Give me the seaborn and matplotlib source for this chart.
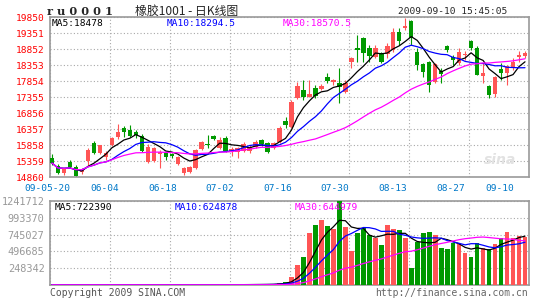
import numpy as np
import pandas as pd
import matplotlib
matplotlib.use("Agg")
import matplotlib.pyplot as plt
import seaborn as sns

# ---------------- data ----------------
opens = [15452, 15203, 14984, 15328, 15171, 15015, 15359, 15920, 15608, 15483,
         15858, 16107, 16388, 16325, 16263, 16138, 15328, 15359, 15577, 15608,
         15577, 15265, 14984, 15015, 15140, 15733, 15889, 16138, 15764, 16076,
         15670, 15639, 15670, 15670, 15795, 16014, 15920, 15764, 15951, 16606,
         16419, 17324, 17573, 17355, 17635, 17604, 17979, 17823, 17791, 17511,
         18446, 18883, 19195, 18883, 18602, 18727, 18696, 18821, 19382, 19507,
         19725, 18758, 18384, 18446, 17823, 18166, 18945, 18602, 18415, 18665,
         19101, 18883, 18010, 17698, 17448, 18228, 18103, 18259, 18602, 18634]
highs = [15577, 15265, 15140, 15390, 15234, 15140, 15764, 15982, 15858, 15670,
         16107, 16513, 16450, 16481, 16325, 16200, 15889, 15795, 15701, 15639,
         15608, 15515, 15171, 15203, 15733, 15982, 16170, 16170, 16107, 16138,
         15795, 15795, 15951, 15858, 16014, 16045, 15951, 15951, 16450, 16731,
         17261, 17823, 17885, 17885, 17729, 17760, 18103, 17916, 18259, 17885,
         18602, 19289, 19226, 18977, 18977, 18758, 19039, 19507, 19507, 19819,
         19756, 18883, 18415, 18478, 18415, 18259, 18977, 18665, 18883, 18790,
         19133, 18945, 18415, 17729, 18010, 18415, 18353, 18571, 18790, 18790]
lows = [15234, 14953, 14922, 15140, 14860, 14953, 15234, 15577, 15577, 15390,
        15826, 16045, 16107, 16107, 16076, 15639, 15296, 15328, 15140, 15390,
        15452, 15234, 14922, 14984, 15109, 15701, 15764, 16014, 15733, 15639,
        15515, 15452, 15639, 15608, 15764, 15826, 15608, 15733, 15920, 16388,
        16388, 17292, 17261, 17355, 17324, 17573, 17791, 17729, 17168, 17480,
        18259, 18446, 18446, 18446, 18571, 18415, 18571, 18758, 18977, 19444,
        18977, 18197, 17979, 17511, 17791, 17791, 18758, 18353, 18353, 18509,
        18821, 18041, 17791, 17324, 17355, 17885, 17729, 18197, 18446, 18571]
closes = [15296, 14984, 15109, 15171, 14891, 15078, 15701, 15608, 15858, 15608,
          16076, 16263, 16263, 16138, 16170, 15670, 15795, 15764, 15639, 15483,
          15515, 15483, 15140, 15171, 15701, 15951, 15858, 16045, 16014, 15670,
          15733, 15764, 15889, 15795, 15951, 15889, 15639, 15920, 16388, 16481,
          17199, 17698, 17355, 17448, 17386, 17698, 17854, 17885, 17667, 17791,
          18571, 18821, 18727, 18634, 18883, 18446, 18945, 19382, 19101, 19569,
          19195, 18353, 18135, 17729, 18384, 18072, 18821, 18509, 18758, 18696,
          18883, 18041, 18103, 17417, 17979, 18103, 18322, 18446, 18665, 18727]
volumes = [3000, 2500, 2000, 2800, 3500, 2200, 4000, 3000, 2600, 2400,
           3800, 4200, 3000, 2800, 2500, 3300, 3600, 3000, 2600, 2400,
           2300, 2900, 3400, 3100, 4500, 4800, 4000, 3700, 4200, 4600,
           5200, 6000, 7500, 8000, 9000, 8500, 11000, 15000, 35000, 50000,
           125000, 300000, 420000, 763000, 883000, 962000, 868000, 828000, 1240000, 853000,
           499000, 763000, 838000, 738000, 698000, 598000, 883000, 828000, 813000, 698000,
           244000, 633000, 763000, 778000, 738000, 544000, 529000, 618000, 613000, 474000,
           420000, 620000, 540000, 530000, 610000, 700000, 785000, 690000, 720000, 715000]

price_ticks = [14860, 15359, 15858, 16357, 16856, 17355, 17854, 18353, 18852, 19351, 19850]
vol_ticks = [248342, 496685, 745027, 993370, 1241712]
date_labels = ["09-05-20", "06-04", "06-18", "07-02", "07-16", "07-30", "08-13", "08-27", "09-10"]
date_label_px = [47.5, 105, 162.3, 220, 277.7, 335, 392.5, 450.7, 500]

price_legend = ["MA5:18478", "MA10:18294.5", "MA30:18570.5"]
vol_legend = ["MA5:722390", "MA10:624878", "MA30:644979"]

# ---------------- style ----------------
sns.set_style("white")
plt.rcParams["font.family"] = ["DejaVu Sans Mono", "Noto Sans CJK SC"]

RED = "#FF5555"
GREEN = "#009900"
MA_COLORS = {5: "#000000", 10: "#0000FF", 30: "#FF00FF"}
GRID = "#A8A8A8"
BORDER = "#9A9A9A"

W, H = 545, 300
fig = plt.figure(figsize=(W / 100, H / 100), dpi=100)
fig.patch.set_facecolor("white")


def px_axes(l, t, r, b):
    return fig.add_axes([l / W, 1 - b / H, (r - l) / W, (b - t) / H])


ax = px_axes(50, 17, 529, 177)
axv = px_axes(50, 201, 529, 285)

df = pd.DataFrame(dict(i=np.arange(len(closes)), o=opens, h=highs, l=lows,
                       c=closes, v=volumes))
up = df["c"] >= df["o"]
colors = np.where(up, RED, GREEN)

# ---------------- price panel ----------------
ax.vlines(df["i"], df["l"], df["h"], colors=colors, lw=0.8, zorder=2)
body = (df["c"] - df["o"]).abs().clip(lower=18)
ax.bar(df["i"], body, bottom=np.minimum(df["o"], df["c"]), width=0.74,
       color=colors, linewidth=0, zorder=3)
for w, col in MA_COLORS.items():
    df[f"ma{w}"] = df["c"].rolling(w, min_periods=1).mean()
    sns.lineplot(data=df, x="i", y=f"ma{w}", ax=ax, color=col, lw=0.9,
                 legend=False, zorder=4)

# ---------------- volume panel ----------------
axv.bar(df["i"], df["v"], width=0.78, color=colors, linewidth=0, zorder=3)
for w, col in MA_COLORS.items():
    df[f"vma{w}"] = df["v"].rolling(w, min_periods=1).mean()
    sns.lineplot(data=df, x="i", y=f"vma{w}", ax=axv, color=col, lw=0.9,
                 legend=False, zorder=4)

xgrid = np.arange(-1 / 3, 80, 10)
for a in (ax, axv):
    a.set_xlim(-1 / 3, 79.5)
    a.set_xticks(xgrid)
    a.set_xticklabels([])
    a.set_xlabel("")
    a.set_ylabel("")
    a.grid(True, ls=(0, (1, 2)), color=GRID, lw=0.8, zorder=0)
    a.set_axisbelow(True)
    for s in a.spines.values():
        s.set_color(BORDER)
        s.set_linewidth(1.2)
    a.tick_params(axis="both", length=0)

ax.set_ylim(price_ticks[0], price_ticks[-1])
ax.set_yticks(price_ticks)
ax.set_yticklabels([str(t) for t in price_ticks])
ax.tick_params(axis="y", pad=4, labelsize=6.8, labelcolor="#FF0000")

axv.set_ylim(0, vol_ticks[-1])
axv.set_yticks(vol_ticks)
axv.set_yticklabels([str(t) for t in vol_ticks])
axv.tick_params(axis="y", pad=4, labelsize=7.4, labelcolor="#999999")

# ---------------- texts ----------------
def ftext(x, y, s, **kw):
    fig.text(x / W, 1 - y / H, s, **kw)


ftext(47, 11.5, "r u 0 0 0 1", fontsize=8.2, weight="bold", va="center",
      family=["DejaVu Serif"])
ftext(135, 11.5, "橡胶1001 - 日K线图", fontsize=8.6, va="center",
      family=["Noto Sans CJK SC", "DejaVu Sans"])
ftext(507, 12, "2009-09-10 15:45:05", fontsize=6.8, va="center", ha="right")

for x, s, col in zip([52, 167, 283], price_legend, MA_COLORS.values()):
    ftext(x, 24, s, fontsize=6.8, va="center", color=col)
for x, s, col in zip([55, 175, 295], vol_legend, MA_COLORS.values()):
    ftext(x, 207.5, s, fontsize=6.8, va="center", color=col)

for x, s in zip(date_label_px, date_labels):
    ftext(x, 188.5, s, fontsize=6.8, va="center", ha="center", color="#0078C8")

ftext(50, 293.5, "Copyright 2009 SINA.COM", fontsize=7.0, va="center", color="#555555")
ftext(528, 293.5, "http://finance.sina.com.cn", fontsize=7.0, va="center",
      ha="right", color="#666666")
ftext(500, 160, "sina", fontsize=10, va="center", ha="center", style="italic",
      weight="bold", color="#E2E2E2", family=["DejaVu Sans"])

fig.savefig("out.png", dpi=100, facecolor="white")
